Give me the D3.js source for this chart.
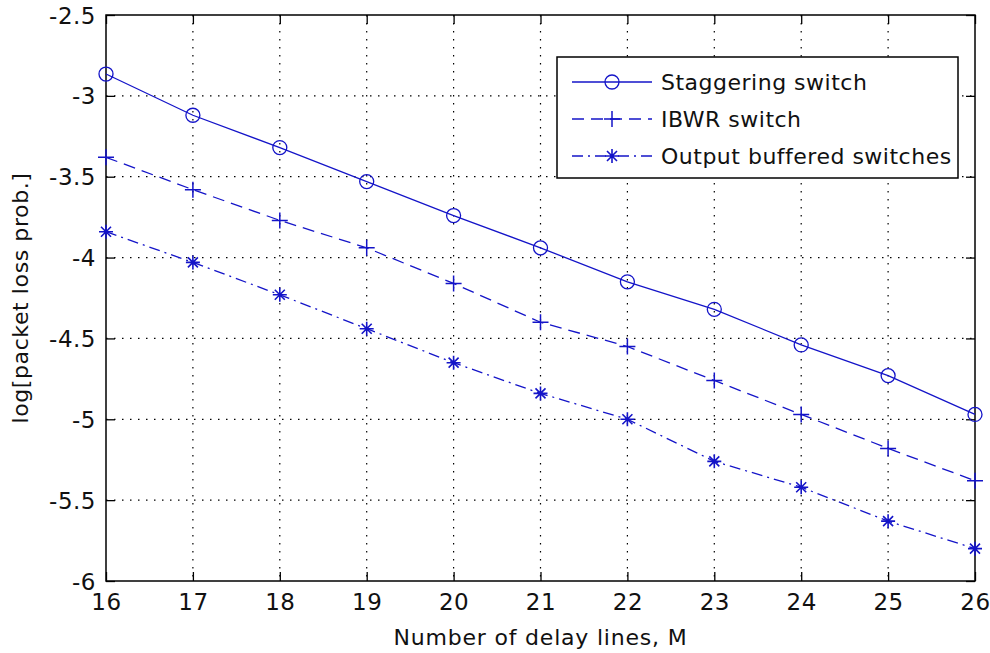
<!DOCTYPE html>
<html>
<head>
<meta charset="utf-8">
<script src="https://cdn.jsdelivr.net/npm/d3@7"></script>
<style>
  body { margin: 0; background: #fff; }
  svg text { font-family: "DejaVu Sans", Verdana, sans-serif; fill: #111; }
</style>
</head>
<body>
<div id="chart"></div>
<script>
// data
var delayLines = [16, 17, 18, 19, 20, 21, 22, 23, 24, 25, 26];
var staggering = [-2.865, -3.12, -3.32, -3.53, -3.74, -3.94, -4.15, -4.32, -4.54, -4.73, -4.97];
var ibwr       = [-3.38, -3.58, -3.77, -3.94, -4.16, -4.40, -4.55, -4.76, -4.97, -5.18, -5.38];
var outputBuf  = [-3.84, -4.03, -4.23, -4.44, -4.65, -4.84, -5.00, -5.26, -5.42, -5.63, -5.80];
var yTicks = [-6, -5.5, -5, -4.5, -4, -3.5, -3, -2.5];
var seriesNames = ["Staggering switch", "IBWR switch", "Output buffered switches"];

var width = 990, height = 653;
var margin = { top: 15, right: 15, bottom: 72, left: 106 };
var blue = "#1414c8";
var fontSize = "22px";

var series = [
  { name: seriesNames[0], values: staggering, dash: null,       marker: "circle" },
  { name: seriesNames[1], values: ibwr,       dash: "12,7",     marker: "plus"   },
  { name: seriesNames[2], values: outputBuf,  dash: "11,5,2,5", marker: "star"   }
];

var svg = d3.select("#chart").append("svg")
  .attr("width", width)
  .attr("height", height);

var x = d3.scaleLinear().domain([16, 26]).range([margin.left, width - margin.right]);
var y = d3.scaleLinear().domain([-6, -2.5]).range([height - margin.bottom, margin.top]);

var x0 = x.range()[0], x1 = x.range()[1];
var y0 = y.range()[0], y1 = y.range()[1];

// dotted grid
var grid = svg.append("g")
  .attr("stroke", "#000")
  .attr("stroke-width", 1.2)
  .attr("stroke-dasharray", "1.5,6.5");

grid.selectAll("line.vx")
  .data(delayLines.slice(1, -1))
  .enter().append("line")
  .attr("x1", function(d) { return x(d); })
  .attr("x2", function(d) { return x(d); })
  .attr("y1", y1).attr("y2", y0);

grid.selectAll("line.hy")
  .data(yTicks.slice(1, -1))
  .enter().append("line")
  .attr("y1", function(d) { return y(d); })
  .attr("y2", function(d) { return y(d); })
  .attr("x1", x0).attr("x2", x1);

// axes, ticks on all four sides pointing inward
var tickLen = 9;
var fmt = function(d) { return String(d); };
var xAxis = svg.append("g")
  .attr("transform", "translate(0," + y0 + ")")
  .call(d3.axisBottom(x).tickValues(delayLines).tickFormat(fmt).tickSizeInner(-tickLen).tickSizeOuter(0).tickPadding(13));
var xAxisTop = svg.append("g")
  .attr("transform", "translate(0," + y1 + ")")
  .call(d3.axisTop(x).tickValues(delayLines).tickFormat("").tickSizeInner(-tickLen).tickSizeOuter(0));
var yAxis = svg.append("g")
  .attr("transform", "translate(" + x0 + ",0)")
  .call(d3.axisLeft(y).tickValues(yTicks).tickFormat(fmt).tickSizeInner(-tickLen).tickSizeOuter(0).tickPadding(10));
var yAxisRight = svg.append("g")
  .attr("transform", "translate(" + x1 + ",0)")
  .call(d3.axisRight(y).tickValues(yTicks).tickFormat("").tickSizeInner(-tickLen).tickSizeOuter(0));

[xAxis, xAxisTop, yAxis, yAxisRight].forEach(function(g) {
  g.select(".domain").remove();
  g.selectAll(".tick line").attr("stroke", "#000").attr("stroke-width", 1.3);
  g.selectAll(".tick text")
    .style("font-family", "'DejaVu Sans', Verdana, sans-serif")
    .style("font-size", "23px")
    .style("letter-spacing", "0.5px")
    .attr("fill", "#111");
});
xAxis.selectAll(".tick text").attr("dy", "0.71em");
yAxis.selectAll(".tick text").attr("dy", "0.35em");

// box
svg.append("rect")
  .attr("x", x0).attr("y", y1)
  .attr("width", x1 - x0).attr("height", y0 - y1)
  .attr("fill", "none")
  .attr("stroke", "#000")
  .attr("stroke-width", 1.5);

// markers
function drawMarker(g, kind, cx, cy) {
  if (kind === "circle") {
    g.append("circle").attr("cx", cx).attr("cy", cy).attr("r", 7)
      .attr("fill", "none").attr("stroke", blue).attr("stroke-width", 1.3);
  } else if (kind === "plus") {
    g.append("path")
      .attr("d", "M" + (cx - 8) + "," + cy + "H" + (cx + 8) + "M" + cx + "," + (cy - 8) + "V" + (cy + 8))
      .attr("stroke", blue).attr("stroke-width", 1.5).attr("fill", "none");
  } else {
    var s = 7, d = 5;
    g.append("path")
      .attr("d", "M" + (cx - s) + "," + cy + "H" + (cx + s) +
                 "M" + cx + "," + (cy - s) + "V" + (cy + s) +
                 "M" + (cx - d) + "," + (cy - d) + "L" + (cx + d) + "," + (cy + d) +
                 "M" + (cx - d) + "," + (cy + d) + "L" + (cx + d) + "," + (cy - d))
      .attr("stroke", blue).attr("stroke-width", 1.6).attr("fill", "none");
  }
}

var line = d3.line()
  .x(function(d, i) { return x(delayLines[i]); })
  .y(function(d) { return y(d); });

var plot = svg.append("g");
series.forEach(function(s) {
  plot.append("path")
    .datum(s.values)
    .attr("d", line)
    .attr("fill", "none")
    .attr("stroke", blue)
    .attr("stroke-width", 1.3)
    .attr("stroke-dasharray", s.dash);
  var mg = plot.append("g");
  s.values.forEach(function(v, i) {
    drawMarker(mg, s.marker, x(delayLines[i]), y(v));
  });
});

// legend
var legend = svg.append("g").attr("transform", "translate(557,57)");
legend.append("rect")
  .attr("width", 401).attr("height", 121)
  .attr("fill", "#fff")
  .attr("stroke", "#000")
  .attr("stroke-width", 1.5);

series.forEach(function(s, i) {
  var ly = 25 + i * 37;
  legend.append("line")
    .attr("x1", 15).attr("x2", 95)
    .attr("y1", ly).attr("y2", ly)
    .attr("stroke", blue).attr("stroke-width", 1.3)
    .attr("stroke-dasharray", s.dash);
  drawMarker(legend, s.marker, 55, ly);
  legend.append("text")
    .attr("x", 104).attr("y", ly)
    .attr("dy", "0.35em")
    .style("font-size", fontSize)
    .style("letter-spacing", "0.5px")
    .text(s.name);
});

// axis titles
svg.append("text")
  .attr("x", (x0 + x1) / 2)
  .attr("y", 645)
  .attr("text-anchor", "middle")
  .style("font-size", fontSize)
  .style("letter-spacing", "0.8px")
  .text("Number of delay lines, M");

svg.append("text")
  .attr("transform", "translate(28," + ((y0 + y1) / 2) + ") rotate(-90)")
  .attr("text-anchor", "middle")
  .style("font-size", fontSize)
  .style("letter-spacing", "0.6px")
  .text("log[packet loss prob.]");
</script>
</body>
</html>
